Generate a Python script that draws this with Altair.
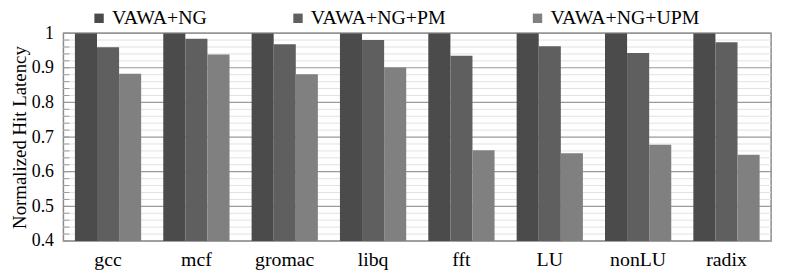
import altair as alt
import pandas as pd

benchmarks = ["gcc", "mcf", "gromac", "libq", "fft", "LU", "nonLU", "radix"]
series = ["VAWA+NG", "VAWA+NG+PM", "VAWA+NG+UPM"]
vawa_ng = [1.0, 1.0, 1.0, 1.0, 1.0, 1.0, 1.0, 1.0]
vawa_ng_pm = [0.959, 0.984, 0.968, 0.980, 0.935, 0.962, 0.943, 0.974]
vawa_ng_upm = [0.883, 0.938, 0.881, 0.901, 0.662, 0.653, 0.678, 0.649]
colors = ["#4b4b4b", "#5f5f5f", "#808080"]
major_ticks = [0.4, 0.5, 0.6, 0.7, 0.8, 0.9, 1.0]
minor_ticks = [round(0.4 + 0.02 * i, 2) for i in range(31)]

rows = []
for s, vals in zip(series, [vawa_ng, vawa_ng_pm, vawa_ng_upm]):
    for b, v in zip(benchmarks, vals):
        rows.append({"bench": b, "series": s, "value": v})
df = pd.DataFrame(rows)
grid_df = pd.DataFrame({
    "g": minor_ticks,
    "major": [any(abs(t - m) < 1e-9 for m in major_ticks) for t in minor_ticks],
})

font = "'Times New Roman', 'Liberation Serif', 'DejaVu Serif', serif"
yscale = alt.Scale(domain=[0.4, 1.0], nice=False, zero=False)
yaxis = alt.Axis(values=major_ticks, format="~g", grid=False, domain=False,
                 ticks=False, labelPadding=10, labelFontSize=18, labelColor="#000",
                 labelFont=font, titleFont=font,
                 titleFontSize=19, titleFontWeight="normal", titleColor="#000",
                 titlePadding=2)

minor = alt.Chart(grid_df).transform_filter("!datum.major").mark_rule(
    color="#e2e2e2", strokeWidth=1).encode(
    y=alt.Y("g:Q", scale=yscale, axis=yaxis, title="Normalized Hit Latency"))
major = alt.Chart(grid_df).transform_filter("datum.major").mark_rule(
    color="#9a9a9a", strokeWidth=1.2).encode(
    y=alt.Y("g:Q", scale=yscale, axis=yaxis, title="Normalized Hit Latency"))
stubs = alt.Chart(grid_df).mark_rule(color="#9a9a9a", strokeWidth=1).encode(
    y=alt.Y("g:Q", scale=yscale, axis=yaxis, title="Normalized Hit Latency"),
    x=alt.value(0), x2=alt.value(6))

bars = alt.Chart(df).mark_bar(clip=True).encode(
    x=alt.X("bench:N", sort=benchmarks, title=None,
            scale=alt.Scale(paddingInner=0.25, paddingOuter=0.13),
            axis=alt.Axis(labelAngle=0, ticks=False, domain=False, labelPadding=9,
                          labelFont=font,
                          labelFontSize=20, labelColor="#000", grid=False)),
    xOffset=alt.XOffset("series:N", sort=series),
    y=alt.Y("value:Q", scale=yscale, axis=yaxis, title="Normalized Hit Latency"),
    color=alt.Color("series:N", sort=series, scale=alt.Scale(domain=series, range=colors),
                    legend=alt.Legend(title=None, orient="none", direction="horizontal",
                                      legendX=26, legendY=-25,
                                      symbolType="square", labelFont=font,
                                      symbolSize=90, symbolStrokeWidth=0,
                                      labelFontSize=20, labelColor="#000", columnPadding=82,
                                      labelOffset=3, symbolOpacity=1)),
)

chart = alt.layer(minor, major, stubs, bars).properties(
    width=715, height=210,
    autosize=alt.AutoSizeParams(type="none"),
    padding={"left": 56, "top": 24, "right": 9, "bottom": 35},
).configure(font=font).configure_view(stroke="#8a8a8a", strokeWidth=1.5)

chart.save("out.html", embed_options={"renderer": "svg", "actions": False})
